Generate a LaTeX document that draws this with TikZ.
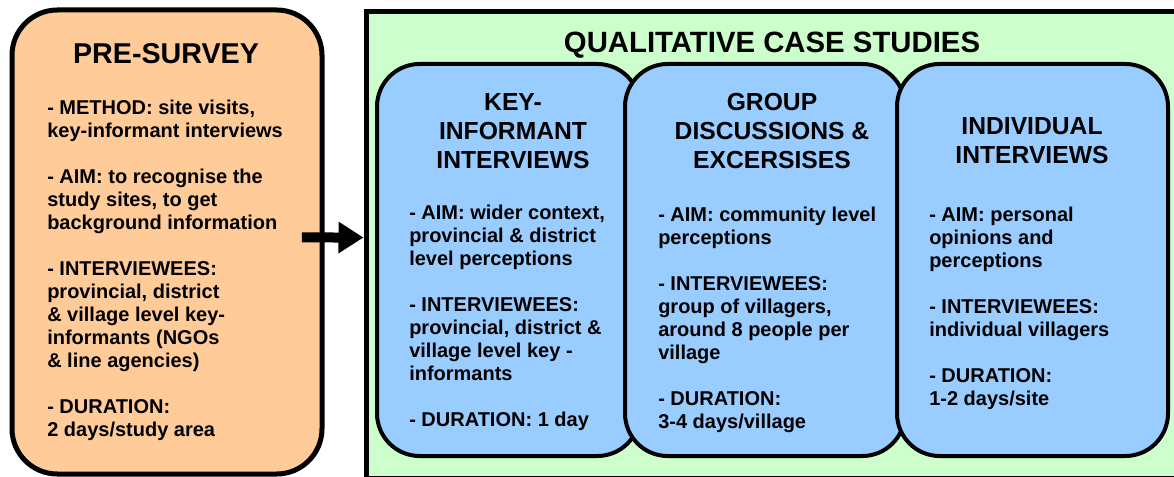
\documentclass[tikz,border=0pt]{standalone}
\usepackage{fontspec}
\setmainfont{Liberation Sans}
\usepackage{xcolor}
\usetikzlibrary{positioning}
\usetikzlibrary{arrows.meta}

\definecolor{presurvey}{HTML}{FFCC99}
\definecolor{casestudy}{HTML}{CCFFCC}
\definecolor{method}{HTML}{99CCFF}

\begin{document}
\begin{tikzpicture}[x=0.75pt,y=-0.75pt]
    \tikzset{Survey/.style={rectangle, draw, rounded corners=34pt, line width=3.75pt, fill=presurvey},
      Frame/.style={rectangle, draw, line width=3.75pt, fill=casestudy},
      Method/.style={rectangle, draw, rounded corners=32pt, line width=3pt, fill=method, minimum height=294pt},
      Title/.style={inner sep=0pt, anchor=north, font=\bfseries\fontsize{22}{26}\selectfont},
      Head/.style={align=center, inner sep=0pt, anchor=north, font=\bfseries\fontsize{18.5}{21.75}\selectfont},
      Body/.style={align=left, inner sep=0pt, anchor=north west, font=\bfseries\fontsize{15}{17.25}\selectfont}}
    \clip (0,0) rectangle (1174,477);
    % pre-survey
    \node[Survey, minimum width=232.5pt, minimum height=348pt] (pre) at (167,242) {};
    \node[Title, font=\bfseries\fontsize{21.5}{26}\selectfont] (pretitle) at (166,43) {PRE-SURVEY};
    \node[Body] (pretext) at (47,100) {- METHOD: site visits,\\
      key-informant interviews\\[17.25pt]
      - AIM: to recognise the\\
      study sites, to get\\
      background information\\[17.25pt]
      - INTERVIEWEES:\\
      provincial, district\\
      \& village level key-\\
      informants (NGOs\\
      \& line agencies)\\[17.25pt]
      - DURATION:\\
      2 days/study area};
    % qualitative case studies
    \node[Frame, minimum width=612pt, minimum height=349.5pt] (qual) at (774,245) {};
    \node[Title] (qualtitle) at (772,32) {QUALITATIVE CASE STUDIES};
    \node[Method, minimum width=197.25pt] (key) at (508.5,260) {};
    \node[Method, minimum width=210pt][right=-14.25pt of key] (group) {};
    \node[Method, minimum width=203.25pt][right=-9pt of group] (indiv) {};
    \node[Head] (keyhead) at (513,93) {KEY-\\ INFORMANT\\ INTERVIEWS};
    \node[Body] (keytext) at (409,205) {- AIM: wider context,\\
      provincial \& district\\
      level perceptions\\[17.25pt]
      - INTERVIEWEES:\\
      provincial, district \&\\
      village level key -\\
      informants\\[17.25pt]
      - DURATION: 1 day};
    \node[Head] (grouphead) at (772,93) {GROUP\\ DISCUSSIONS \&\\ EXCERSISES};
    \node[Body] (grouptext) at (658,207) {- AIM: community level\\
      perceptions\\[17.25pt]
      - INTERVIEWEES:\\
      group of villagers,\\
      around 8 people per\\
      village\\[17.25pt]
      - DURATION:\\
      3-4 days/village};
    \node[Head] (indivhead) at (1032,117) {INDIVIDUAL\\ INTERVIEWS};
    \node[Body] (indivtext) at (929,207) {- AIM: personal\\
      opinions and\\
      perceptions\\[17.25pt]
      - INTERVIEWEES:\\
      individual villagers\\[17.25pt]
      - DURATION:\\
      1-2 days/site};
    \draw[line width=7.5pt, -{Triangle[length=18.75pt, width=22.5pt]}] ([xshift=-17pt, yshift=3.4pt]pre.east) -- ([yshift=5.6pt]qual.west);
\end{tikzpicture}
\end{document}
